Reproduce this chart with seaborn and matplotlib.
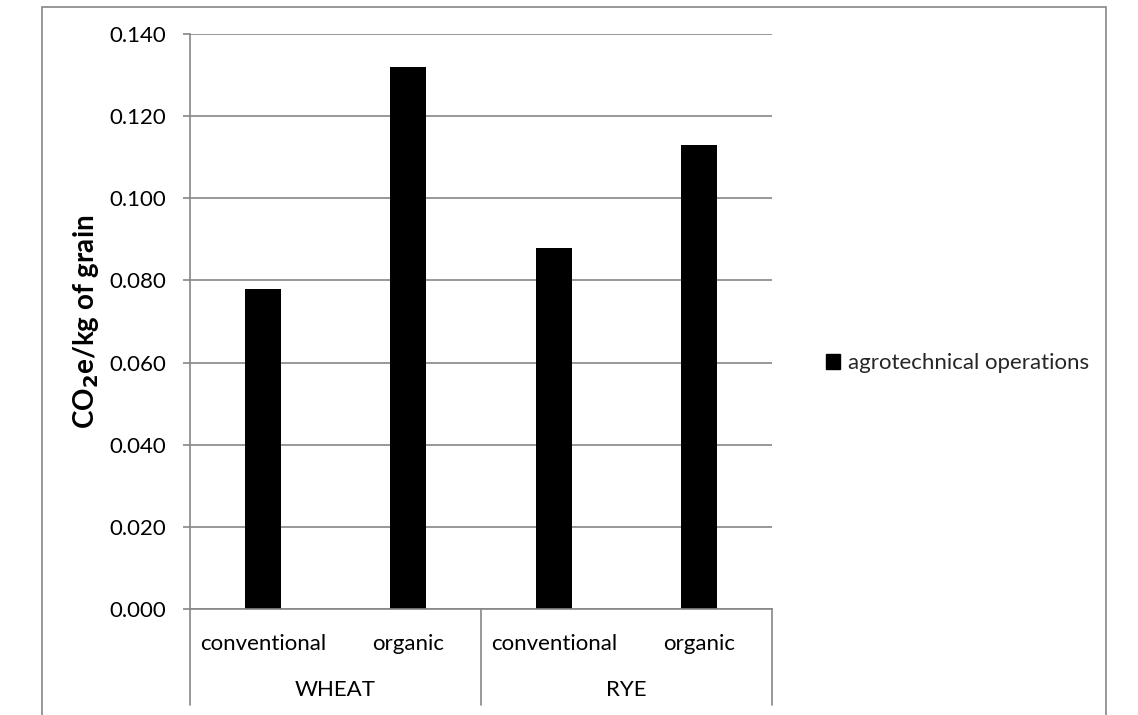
import matplotlib
matplotlib.use("Agg")
import matplotlib.pyplot as plt
import matplotlib.transforms as mtransforms
from matplotlib.patches import Patch, Rectangle
import seaborn as sns
import pandas as pd

# Emissions from agrotechnical operations per kg of grain
crops = ["WHEAT", "WHEAT", "RYE", "RYE"]
systems = ["conventional", "organic", "conventional", "organic"]
values = [0.078, 0.132, 0.088, 0.113]
series_name = "agrotechnical operations"
y_ticks = [0.000, 0.020, 0.040, 0.060, 0.080, 0.100, 0.120, 0.140]

df = pd.DataFrame({
    "bar": [f"{c} {s}" for c, s in zip(crops, systems)],
    "crop": crops,
    "system": systems,
    "value": values,
})

sns.set_theme(style="white")
plt.rcParams["font.family"] = ["Lato", "DejaVu Sans"]

GRAY = "#868686"
FS = 16
W, H = 1138, 715
fig = plt.figure(figsize=(W / 100, H / 100), dpi=100)
fig.patch.set_facecolor("white")

# outer chart frame
fig.add_artist(Rectangle((42 / W, -0.02), (1106 - 42) / W, (1 - 7 / H) + 0.02,
                         transform=fig.transFigure, fill=False,
                         edgecolor=GRAY, linewidth=1.2))

ax = fig.add_axes([190 / W, 1 - 609 / H, (772 - 190) / W, (609 - 34) / H])

sns.barplot(data=df, x="bar", y="value", order=list(df["bar"]),
            color="black", saturation=1, width=0.25, ax=ax,
            edgecolor="black", linewidth=0)

ax.set_ylim(0, 0.14)
ax.set_xlim(-0.5, len(values) - 0.5)
ax.set_yticks(y_ticks)
ax.set_yticklabels([f"{t:.3f}" for t in y_ticks], fontsize=FS, color="black")
ax.yaxis.grid(True, color=GRAY, linewidth=1.2)
ax.set_axisbelow(True)
ax.tick_params(axis="y", which="both", left=True, length=5, width=1.2,
               color=GRAY, pad=12)

ax.set_xticks(range(len(values)))
ax.set_xticklabels(systems, fontsize=FS, color="black")
ax.tick_params(axis="x", length=0, pad=18)
ax.set_xlabel("")

ax.set_ylabel(r"CO$_\mathbf{2}$e/kg of grain", fontsize=20, fontweight="bold",
              color="black", labelpad=6)

for side in ("top", "right"):
    ax.spines[side].set_visible(False)
for side in ("left", "bottom"):
    ax.spines[side].set_color(GRAY)
    ax.spines[side].set_linewidth(1.2)

# group separators and group labels below the category axis
trans = mtransforms.blended_transform_factory(ax.transData, ax.transAxes)
depth = (705 - 609) / (609 - 34)
for xpos in (-0.5, 1.5, 3.5):
    ax.plot([xpos, xpos], [0, -depth], transform=trans, color=GRAY,
            linewidth=1.2, clip_on=False)
group_names = list(dict.fromkeys(crops))
for i, name in enumerate(group_names):
    ax.text(2 * i + 0.5, -(690 - 609) / (609 - 34), name, transform=trans,
            ha="center", va="center", fontsize=FS, color="black")

ax.legend(handles=[Patch(facecolor="black", edgecolor="black", label=series_name)],
          loc="center left", bbox_to_anchor=(806 / W, 1 - 363 / H),
          bbox_transform=fig.transFigure, frameon=False, fontsize=FS,
          handlelength=0.65, handleheight=0.65, handletextpad=0.35)

fig.savefig("out.png", dpi=100, facecolor="white")
